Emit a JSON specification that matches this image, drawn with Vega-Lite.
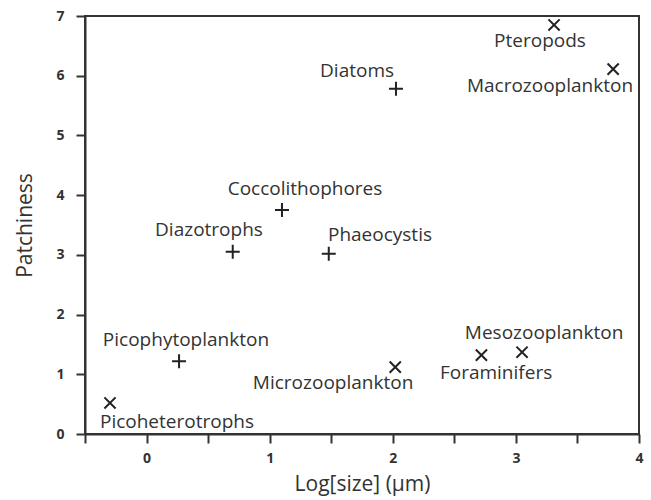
{
  "$schema": "https://vega.github.io/schema/vega-lite/v6.json",
  "autosize": "none",
  "width": 554,
  "height": 418,
  "padding": {"left": 85, "top": 16, "right": 12, "bottom": 66},
  "background": "white",
  "config": {
    "view": {"stroke": "#333333", "strokeWidth": 2},
    "font": "Open Sans",
    "axis": {
      "domainColor": "#333333",
      "domainWidth": 2,
      "tickColor": "#333333",
      "tickWidth": 2,
      "tickSize": 9,
      "grid": false,
      "labelFont": "Open Sans",
      "labelFontWeight": "bold",
      "labelFontSize": 14,
      "labelColor": "#333333",
      "titleFont": "Open Sans",
      "titleFontWeight": "normal",
      "titleFontSize": 21,
      "titleColor": "#333333"
    }
  },
  "data": {
    "values": [
      {"group": "Phytoplankton", "name": "Coccolithophores", "size": 1.10, "patchiness": 3.75, "label_x": 1.287, "label_y": 4.10},
      {"group": "Phytoplankton", "name": "Diatoms", "size": 2.026, "patchiness": 5.78, "label_x": 1.71, "label_y": 6.08},
      {"group": "Zooplankton", "name": "Pteropods", "size": 3.31, "patchiness": 6.85, "label_x": 3.196, "label_y": 6.58},
      {"group": "Zooplankton", "name": "Macrozooplankton", "size": 3.79, "patchiness": 6.11, "label_x": 3.277, "label_y": 5.83},
      {"group": "Phytoplankton", "name": "Diazotrophs", "size": 0.70, "patchiness": 3.05, "label_x": 0.507, "label_y": 3.42},
      {"group": "Phytoplankton", "name": "Phaeocystis", "size": 1.48, "patchiness": 3.02, "label_x": 1.896, "label_y": 3.33},
      {"group": "Phytoplankton", "name": "Picophytoplankton", "size": 0.264, "patchiness": 1.22, "label_x": 0.32, "label_y": 1.57},
      {"group": "Zooplankton", "name": "Picoheterotrophs", "size": -0.297, "patchiness": 0.52, "label_x": 0.247, "label_y": 0.20},
      {"group": "Zooplankton", "name": "Microzooplankton", "size": 2.02, "patchiness": 1.12, "label_x": 1.515, "label_y": 0.85},
      {"group": "Zooplankton", "name": "Foraminifers", "size": 2.72, "patchiness": 1.32, "label_x": 2.839, "label_y": 1.02},
      {"group": "Zooplankton", "name": "Mesozooplankton", "size": 3.05, "patchiness": 1.37, "label_x": 3.229, "label_y": 1.69}
    ]
  },
  "layer": [
    {
      "mark": {"type": "point", "filled": false, "strokeWidth": 2, "size": 196, "opacity": 1},
      "encoding": {
        "x": {
          "field": "size", "type": "quantitative",
          "scale": {"domain": [-0.5, 4], "nice": false, "zero": false},
          "axis": {
            "title": "Log[size] (µm)",
            "values": [-0.5, 0, 0.5, 1, 1.5, 2, 2.5, 3, 3.5, 4],
            "labelExpr": "datum.value % 1 === 0 ? format(datum.value, 'd') : ''",
            "labelPadding": 8,
            "titlePadding": 8,
            "labelFlush": false
          }
        },
        "y": {
          "field": "patchiness", "type": "quantitative",
          "scale": {"domain": [0, 7], "nice": false, "zero": false},
          "axis": {
            "title": "Patchiness",
            "values": [0, 0.5, 1, 1.5, 2, 2.5, 3, 3.5, 4, 4.5, 5, 5.5, 6, 6.5, 7],
            "labelExpr": "datum.value % 1 === 0 ? format(datum.value, 'd') : ''",
            "labelPadding": 12,
            "titlePadding": 20,
            "labelFlush": false
          }
        },
        "shape": {
          "field": "group", "type": "nominal",
          "scale": {"domain": ["Phytoplankton", "Zooplankton"], "range": ["M-1,0L1,0M0,-1L0,1", "M-0.8,-0.8L0.8,0.8M-0.8,0.8L0.8,-0.8"]},
          "legend": null
        },
        "color": {"value": "#222222"}
      }
    },
    {
      "mark": {"type": "text", "font": "Open Sans", "fontSize": 19, "align": "center", "baseline": "middle", "color": "#333333"},
      "encoding": {
        "x": {"field": "label_x", "type": "quantitative"},
        "y": {"field": "label_y", "type": "quantitative"},
        "text": {"field": "name"}
      }
    }
  ]
}
